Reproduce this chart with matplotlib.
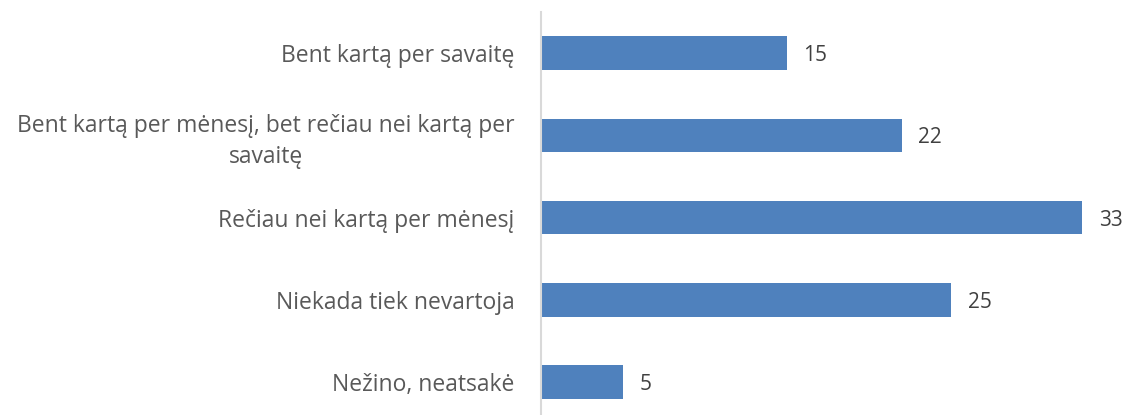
import matplotlib.pyplot as plt

categories = ['Bent kartą per savaitę',
              'Bent kartą per mėnesį, bet rečiau nei kartą per\nsavaitę',
              'Rečiau nei kartą per mėnesį',
              'Niekada tiek nevartoja',
              'Nežino, neatsakė']
values = [15, 22, 33, 25, 5]

plt.rcParams['font.family'] = ['Open Sans', 'DejaVu Sans']

fig = plt.figure(figsize=(11.26, 4.15), dpi=100)
ax = fig.add_axes([0.4805, 0.0, 0.51, 0.971])

pos = list(range(len(categories)))
ax.barh(pos, values, height=0.41, color='#4F81BD')

for p, v in zip(pos, values):
    ax.text(v + 1.0, p, str(v), va='center_baseline', ha='left', fontsize=15, color='#404040')

ax.set_yticks(pos)
ax.set_yticklabels(categories, fontsize=16.5, color='#595959', multialignment='center', linespacing=1.35)
ax.tick_params(axis='y', length=0, pad=19)
ax.set_xticks([])
ax.set_xlim(0, 35)
ax.set_ylim(4.4, -0.5)

for s in ['top', 'right', 'bottom']:
    ax.spines[s].set_visible(False)
ax.spines['left'].set_color('#D9D9D9')
ax.spines['left'].set_linewidth(1.5)

fig.savefig('out.png', dpi=100)
